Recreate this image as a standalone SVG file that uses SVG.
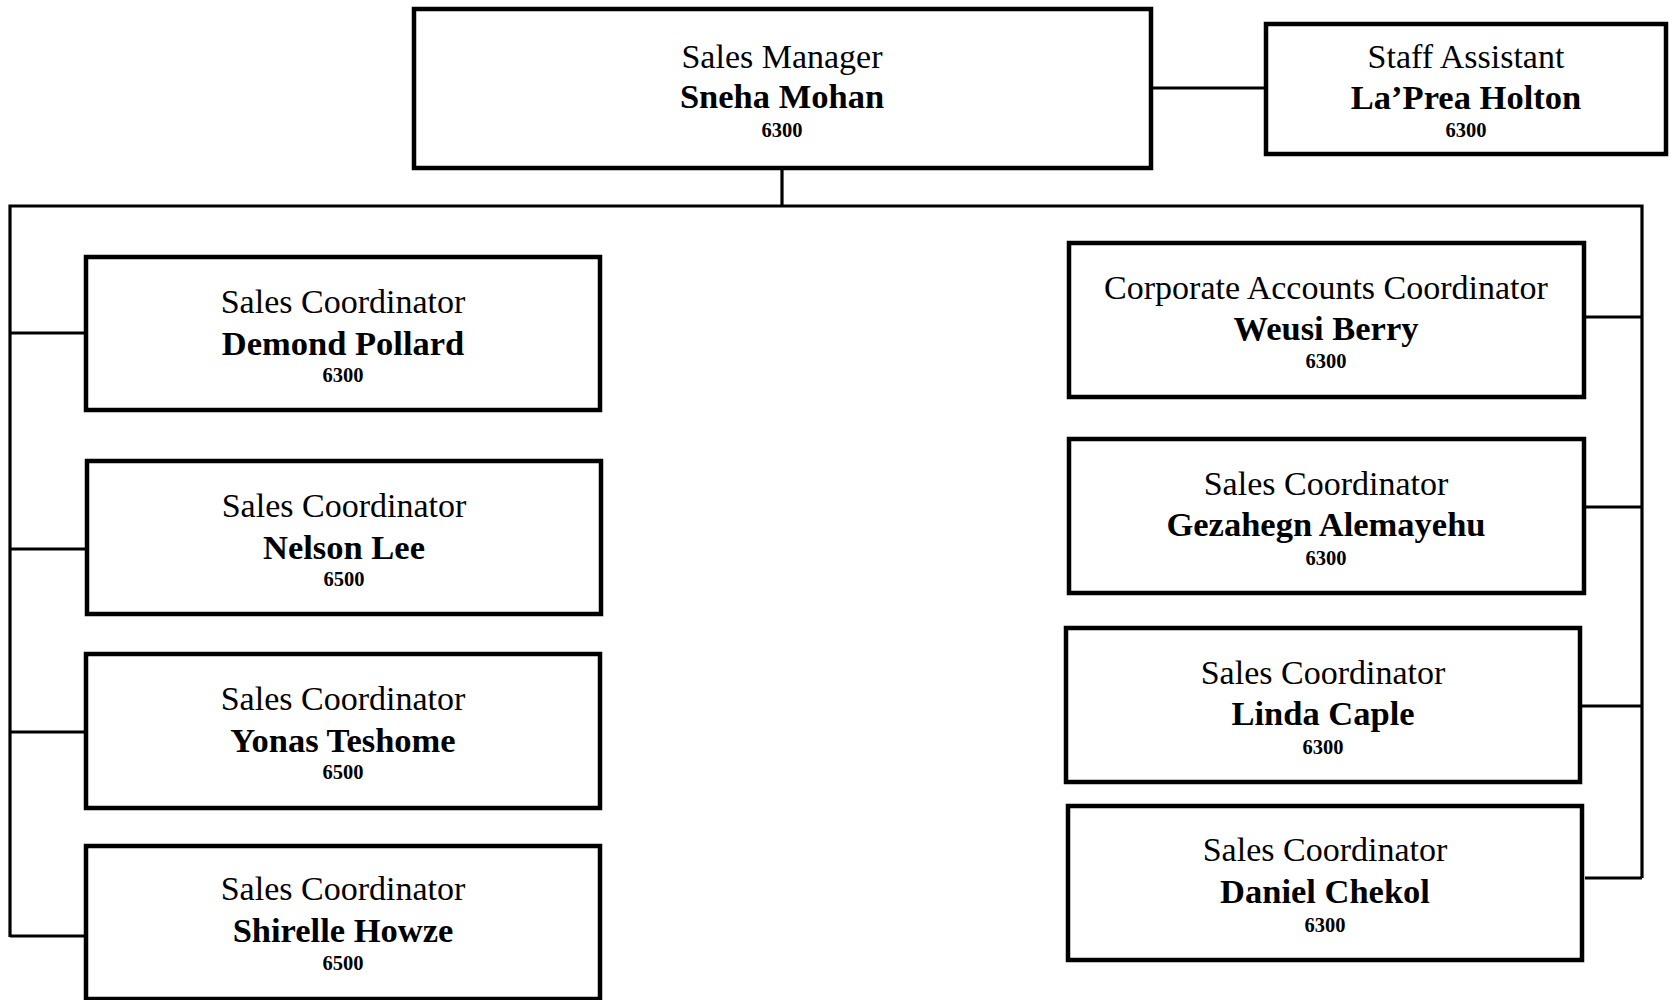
<svg xmlns="http://www.w3.org/2000/svg" width="1669" height="1000" viewBox="0 0 1669 1000">
<style>
.box{fill:#fff;stroke:#000;stroke-width:4.5}
.ln{fill:none;stroke:#000;stroke-width:3.2}
text{font-family:"Liberation Serif","Times New Roman",serif;text-anchor:middle;fill:#000}
.t{font-size:34px}
.n{font-size:34.5px;font-weight:bold}
.c{font-size:20.5px;font-weight:bold}
</style>
<rect width="1669" height="1000" fill="#fff"/>
<g id="connectors">
<line class="ln" x1="782" y1="168" x2="782" y2="206"/>
<line class="ln" x1="1151" y1="88" x2="1266" y2="88"/>
<polyline class="ln" points="10,937 10,206 1642,206 1642,878"/>
<line class="ln" x1="10" y1="333" x2="86" y2="333"/>
<line class="ln" x1="10" y1="549" x2="86" y2="549"/>
<line class="ln" x1="10" y1="732" x2="86" y2="732"/>
<line class="ln" x1="10" y1="936" x2="86" y2="936"/>
<line class="ln" x1="1586" y1="317" x2="1642" y2="317"/>
<line class="ln" x1="1586" y1="507" x2="1642" y2="507"/>
<line class="ln" x1="1581" y1="706" x2="1642" y2="706"/>
<line class="ln" x1="1585" y1="878" x2="1642" y2="878"/>
</g>
<g id="sales-manager">
<rect class="box" x="414" y="9" width="737" height="159"/>
<text class="t" x="782" y="68">Sales Manager</text>
<text class="n" x="782" y="108">Sneha Mohan</text>
<text class="c" x="782" y="137">6300</text>
</g>
<g id="staff-assistant">
<rect class="box" x="1266" y="24" width="400" height="130"/>
<text class="t" x="1466" y="68">Staff Assistant</text>
<text class="n" x="1466" y="109">La’Prea Holton</text>
<text class="c" x="1466" y="137">6300</text>
</g>
<g id="demond-pollard">
<rect class="box" x="86" y="257" width="514" height="153"/>
<text class="t" x="343" y="313">Sales Coordinator</text>
<text class="n" x="343" y="355">Demond Pollard</text>
<text class="c" x="343" y="382">6300</text>
</g>
<g id="nelson-lee">
<rect class="box" x="87" y="461" width="514" height="153"/>
<text class="t" x="344" y="517">Sales Coordinator</text>
<text class="n" x="344" y="559">Nelson Lee</text>
<text class="c" x="344" y="586">6500</text>
</g>
<g id="yonas-teshome">
<rect class="box" x="86" y="654" width="514" height="154"/>
<text class="t" x="343" y="710">Sales Coordinator</text>
<text class="n" x="343" y="752">Yonas Teshome</text>
<text class="c" x="343" y="779">6500</text>
</g>
<g id="shirelle-howze">
<rect class="box" x="86" y="846" width="514" height="153"/>
<text class="t" x="343" y="900">Sales Coordinator</text>
<text class="n" x="343" y="942">Shirelle Howze</text>
<text class="c" x="343" y="970">6500</text>
</g>
<g id="weusi-berry">
<rect class="box" x="1069" y="243" width="515" height="154"/>
<text class="t" x="1326" y="299">Corporate Accounts Coordinator</text>
<text class="n" x="1326" y="340">Weusi Berry</text>
<text class="c" x="1326" y="368">6300</text>
</g>
<g id="gezahegn-alemayehu">
<rect class="box" x="1069" y="439" width="515" height="154"/>
<text class="t" x="1326" y="495">Sales Coordinator</text>
<text class="n" x="1326" y="536">Gezahegn Alemayehu</text>
<text class="c" x="1326" y="565">6300</text>
</g>
<g id="linda-caple">
<rect class="box" x="1066" y="628" width="514" height="154"/>
<text class="t" x="1323" y="684">Sales Coordinator</text>
<text class="n" x="1323" y="725">Linda Caple</text>
<text class="c" x="1323" y="754">6300</text>
</g>
<g id="daniel-chekol">
<rect class="box" x="1068" y="806" width="514" height="154"/>
<text class="t" x="1325" y="861">Sales Coordinator</text>
<text class="n" x="1325" y="903">Daniel Chekol</text>
<text class="c" x="1325" y="932">6300</text>
</g>
</svg>
